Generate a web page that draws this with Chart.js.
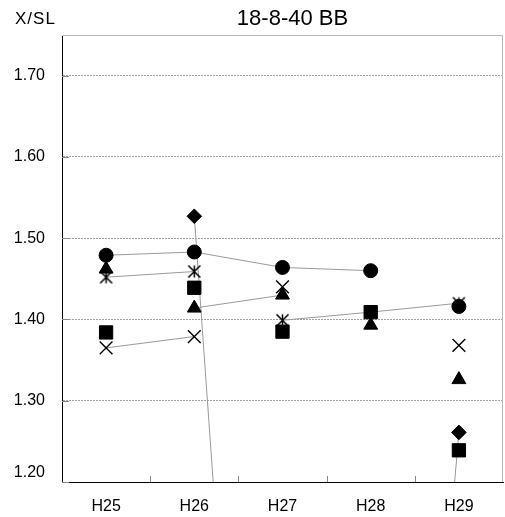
<!DOCTYPE html>
<html><head><meta charset="utf-8">
<script src="https://cdn.jsdelivr.net/npm/chart.js@4"></script>
<style>html,body{margin:0;padding:0;background:#fff}</style>
</head><body>
<canvas id="c" width="505" height="517"></canvas>
<script>
const categories = ['H25', 'H26', 'H27', 'H28', 'H29'];
const yTickValues = [1.20, 1.30, 1.40, 1.50, 1.60, 1.70];
const titleText = '18-8-40 BB';
const yAxisTitle = 'X/SL';

// marker values per category (null = no marker)
const circleVals   = [1.479, 1.483, 1.464, 1.460, 1.416];
const triangleVals = [1.462, 1.414, 1.430, 1.393, 1.326];
const crossVals    = [1.365, 1.379, 1.440, null, 1.368];
const starVals     = [1.452, 1.459, 1.399, null, 1.420];
const squareVals   = [1.384, 1.439, 1.385, 1.409, 1.239];
const diamondVals  = [null, 1.527, 0, 0, 1.261];

// connecting lines (thin grey)
const lineCircle   = [1.479, 1.483, 1.464, 1.460, null];
const lineStar     = [1.452, 1.459, null, null, null];
const lineCross    = [1.365, 1.379, null, null, null];
const lineTriangle = [null, 1.414, 1.430, null, null];
const lineMixed    = [null, null, 1.399, 1.409, 1.420];
const lineDiamond  = [null, 1.527, 0, 0, 1.261];

function makeStar() {
  const s = 17, c = document.createElement('canvas');
  c.width = s; c.height = s;
  const g = c.getContext('2d');
  g.strokeStyle = '#000'; g.lineWidth = 1.5;
  const m = s / 2, a = 6;
  g.beginPath();
  g.moveTo(m - a, m - a); g.lineTo(m + a, m + a);
  g.moveTo(m + a, m - a); g.lineTo(m - a, m + a);
  g.moveTo(m, m - a); g.lineTo(m, m + a);
  g.stroke();
  return c;
}

function markerSet(data, style, radius, bw) {
  return { data, showLine: false, pointStyle: style, pointRadius: radius,
    pointBackgroundColor: '#000', pointBorderColor: '#000', pointBorderWidth: bw || 1,
    pointHoverRadius: radius, order: 1 };
}
function lineSet(data) {
  return { data, showLine: true, pointRadius: 0, pointHoverRadius: 0,
    borderColor: '#9a9a9a', borderWidth: 1, tension: 0, spanGaps: false, fill: false, order: 2 };
}

const frame = {
  id: 'frame',
  afterDraw(chart) {
    const { ctx, chartArea: a, scales: { x, y } } = chart;
    ctx.save();
    ctx.strokeStyle = '#b8b8b8'; ctx.lineWidth = 1;
    ctx.beginPath();
    ctx.moveTo(a.left, a.top + 0.5); ctx.lineTo(a.right - 0.5, a.top + 0.5); ctx.lineTo(a.right - 0.5, a.bottom);
    ctx.stroke();
    ctx.strokeStyle = '#888';
    ctx.beginPath();
    yTickValues.forEach(v => {
      const p = Math.round(y.getPixelForValue(v)) + 0.5;
      ctx.moveTo(a.left, p); ctx.lineTo(a.left + 7, p);
    });
    for (let i = 0; i < categories.length - 1; i++) {
      const p = Math.round((x.getPixelForValue(i) + x.getPixelForValue(i + 1)) / 2) + 0.5;
      ctx.moveTo(p, a.bottom); ctx.lineTo(p, a.bottom - 6);
    }
    ctx.stroke();
    ctx.fillStyle = '#000';
    ctx.textBaseline = 'middle';
    ctx.font = '22px "Liberation Sans", Arial, sans-serif';
    ctx.textAlign = 'center';
    ctx.fillText(titleText, (a.left + a.right) / 2 + 10, 19);
    ctx.font = '17px "Liberation Sans", Arial, sans-serif';
    ctx.letterSpacing = '1px';
    ctx.textAlign = 'left';
    ctx.fillText(yAxisTitle, 15, 19);
    ctx.restore();
  }
};

new Chart(document.getElementById('c'), {
  type: 'line',
  data: {
    labels: categories,
    datasets: [
      markerSet(circleVals, 'circle', 7),
      markerSet(triangleVals, 'triangle', 8),
      markerSet(crossVals, 'crossRot', 9, 1.4),
      markerSet(starVals, makeStar(), 8),
      markerSet(squareVals, 'rect', 9.4),
      markerSet(diamondVals, 'rectRot', 7.3),
      lineSet(lineCircle), lineSet(lineStar), lineSet(lineCross),
      lineSet(lineTriangle), lineSet(lineMixed), lineSet(lineDiamond)
    ]
  },
  options: {
    responsive: false, animation: false, devicePixelRatio: 1,
    layout: { autoPadding: false, padding: { left: 0, top: 35, right: 2, bottom: 0 } },
    plugins: { legend: { display: false }, tooltip: { enabled: false }, title: { display: false } },
    scales: {
      x: {
        type: 'category', offset: true,
        grid: { display: false, drawTicks: false },
        border: { display: true, color: '#000', width: 1 },
        ticks: { color: '#000', padding: 15, font: { family: '"Liberation Sans", Arial, sans-serif', size: 16 } },
        afterFit(s) { s.height = 35; s.paddingLeft = 0; s.paddingRight = 0; }
      },
      y: {
        min: 1.2, max: 1.75,
        afterBuildTicks(s) { s.ticks = yTickValues.map(v => ({ value: v })); },
        grid: { color: '#a0a0a0', lineWidth: 1, drawTicks: false },
        border: { display: true, color: '#000', width: 1, dash: [2, 1] },
        ticks: {
          color: '#000', padding: 17,
          font: { family: '"Liberation Sans", Arial, sans-serif', size: 16 },
          callback(v) { const t = Number(v).toFixed(2); return Math.abs(v - 1.2) < 1e-9 ? [t, ''] : t; }
        },
        afterFit(s) { s.width = 62; s.paddingTop = 0; s.paddingBottom = 0; }
      }
    }
  },
  plugins: [frame]
});
</script>
</body></html>
